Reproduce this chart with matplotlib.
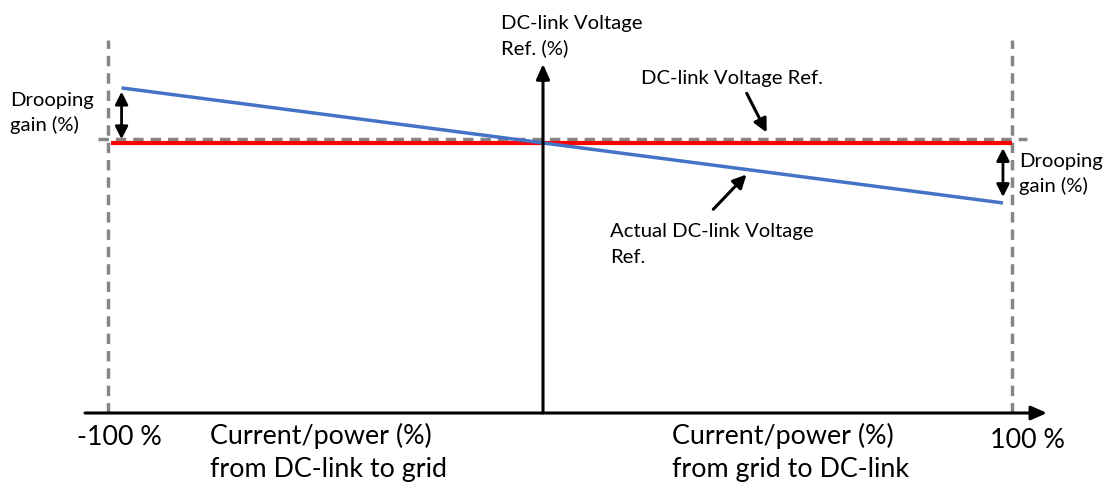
import matplotlib
matplotlib.use("Agg")
import matplotlib.pyplot as plt

plt.rcParams['font.family'] = ['Lato', 'DejaVu Sans']
plt.rcParams['lines.scale_dashes'] = False

# ---- data (x: current/power in %, y: DC-link voltage in % of reference) ----
limit_pct = [-100, 100]                 # current/power limits
ref_x = [-99.3, 100.0]                  # DC-link voltage reference line extent
ref_y = [100.0, 100.0]
actual_x = [-97.0, 98.0]                # actual (drooped) voltage reference
actual_y = [120.4, 77.8]
axis_origin_x = -3.76                   # where the vertical axis crosses
tick_labels = ["-100 %", "100 %"]

# ---- figure: pixel-accurate layout ----
W, H = 1109, 483
fig = plt.figure(figsize=(W / 100, H / 100), dpi=100)
ax = fig.add_axes([0, 0, 1, 1])
X0, SX = 560.0, 4.52      # px of x=0, px per %
Y0, SY = 413.0, 2.7       # px of y=0, px per %
ax.set_xlim((0 - X0) / SX, (W - X0) / SX)
ax.set_ylim((Y0 - H) / SY, Y0 / SY)
ax.axis('off')


def d(xp, yp):
    """pixel position -> data coordinates (for annotation placement)"""
    return (xp - X0) / SX, (Y0 - yp) / SY


gray = '#868686'
# dashed limit lines
for xv in limit_pct:
    ax.plot([xv, xv], [d(0, 413)[1], d(0, 40)[1]], color=gray, lw=2.5,
            dashes=(7.5, 5), zorder=1)
# dashed horizontal reference
ax.plot([d(98, 0)[0], d(1027, 0)[0]], [101.3, 101.3], color=gray, lw=2.5,
        dashes=(7.5, 5), zorder=1)

# red reference and blue actual line
ax.plot(ref_x, ref_y, color='#ff0000', lw=3.0, solid_capstyle='butt', zorder=3)
ax.plot(actual_x, actual_y, color='#4472c4', lw=2.5, solid_capstyle='butt', zorder=4)


def arrow(p0, p1, style, lw=2.0, zorder=5):
    ax.annotate('', xy=p1, xytext=p0,
                arrowprops=dict(arrowstyle=style, lw=lw, color='black',
                                shrinkA=0, shrinkB=0),
                zorder=zorder)


# axes
arrow(d(85, 413), d(1047, 413), '-|>,head_length=0.95,head_width=0.42', lw=2.2)
arrow((axis_origin_x, 0), (axis_origin_x, d(0, 64)[1]),
      '-|>,head_length=0.9,head_width=0.4', lw=2.2)

# drooping gain double arrows
arrow((actual_x[0], 101.4), (actual_x[0], 119.0),
      '<|-|>,head_length=0.75,head_width=0.38', lw=2.0)
arrow((actual_x[1], 98.1), (actual_x[1], 80.0),
      '<|-|>,head_length=0.75,head_width=0.38', lw=2.0)

# pointer arrows
arrow(d(746.7, 93.3), d(766.7, 132.5), '-|>,head_length=0.8,head_width=0.4', lw=2.2)
arrow(d(713.3, 209.3), d(746.5, 174.5), '-|>,head_length=0.8,head_width=0.4', lw=2.2)

small = 14.6
big = 19.4
txt = dict(color='black', ha='left', va='baseline')


def label(xp, yp, s, size):
    ax.text(*d(xp, yp), s, fontsize=size, **txt)


label(10, 106, "Drooping", small)
label(10, 131, "gain (%)", small)
label(1019, 167, "Drooping", small)
label(1019, 192, "gain (%)", small)
label(501, 29, "DC-link Voltage", small)
label(501, 54, "Ref. (%)", small)
label(641, 84, "DC-link Voltage Ref.", small)
label(610, 237, "Actual DC-link Voltage", small)
label(610, 263, "Ref.", small)

label(77, 445, tick_labels[0], big)
label(990, 448, tick_labels[1], big)
label(210, 444, "Current/power (%)", big)
label(210, 477, "from DC-link to grid", big)
label(672, 444, "Current/power (%)", big)
label(672, 477, "from grid to DC-link", big)

fig.savefig('out.png', dpi=100)
